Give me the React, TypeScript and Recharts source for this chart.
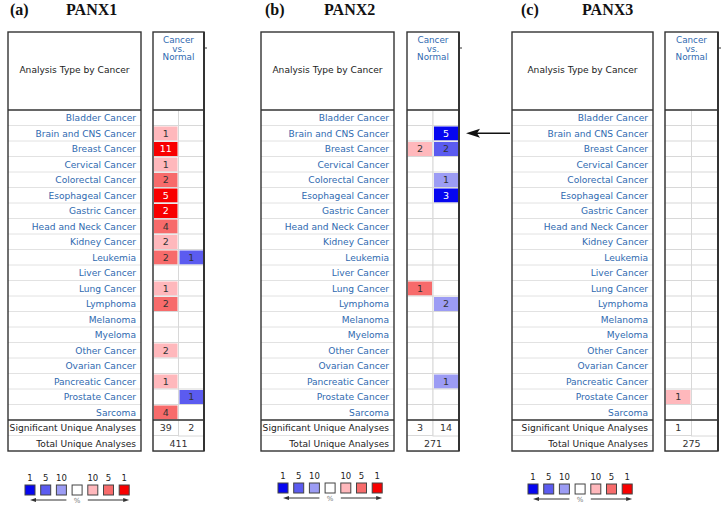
import React from 'react';
import { BarChart, Bar, XAxis, YAxis } from 'recharts';

const cancerTypes = [
  'Bladder Cancer', 'Brain and CNS Cancer', 'Breast Cancer', 'Cervical Cancer', 'Colorectal Cancer',
  'Esophageal Cancer', 'Gastric Cancer', 'Head and Neck Cancer', 'Kidney Cancer', 'Leukemia',
  'Liver Cancer', 'Lung Cancer', 'Lymphoma', 'Melanoma', 'Myeloma', 'Other Cancer',
  'Ovarian Cancer', 'Pancreatic Cancer', 'Prostate Cancer', 'Sarcoma',
];
const summaryLabels = ['Significant Unique Analyses', 'Total Unique Analyses'];
const panelLetters = ['(a)', '(b)', '(c)'];
const geneNames = ['PANX1', 'PANX2', 'PANX3'];

// counts of significant analyses per cancer type (null = none) and gene-rank threshold (%) colour
const panx1UpCounts = [null, 1, 11, 1, 2, 5, 2, 4, 2, 2, null, 1, 2, null, null, 2, null, 1, null, 4];
const panx1UpRanks = [0, 10, 1, 10, 5, 1, 1, 5, 10, 5, 0, 10, 5, 0, 0, 10, 0, 10, 0, 5];
const panx1DownCounts = [null, null, null, null, null, null, null, null, null, 1, null, null, null, null, null, null, null, null, 1, null];
const panx1DownRanks = [0, 0, 0, 0, 0, 0, 0, 0, 0, 5, 0, 0, 0, 0, 0, 0, 0, 0, 5, 0];

const panx2UpCounts = [null, null, 2, null, null, null, null, null, null, null, null, 1, null, null, null, null, null, null, null, null];
const panx2UpRanks = [0, 0, 10, 0, 0, 0, 0, 0, 0, 0, 0, 5, 0, 0, 0, 0, 0, 0, 0, 0];
const panx2DownCounts = [null, 5, 2, null, 1, 3, null, null, null, null, null, null, 2, null, null, null, null, 1, null, null];
const panx2DownRanks = [0, 1, 5, 0, 10, 1, 0, 0, 0, 0, 0, 0, 10, 0, 0, 0, 0, 10, 0, 0];

const panx3UpCounts = [null, null, null, null, null, null, null, null, null, null, null, null, null, null, null, null, null, null, 1, null];
const panx3UpRanks = [0, 0, 0, 0, 0, 0, 0, 0, 0, 0, 0, 0, 0, 0, 0, 0, 0, 0, 10, 0];
const panx3DownCounts = [null, null, null, null, null, null, null, null, null, null, null, null, null, null, null, null, null, null, null, null];
const panx3DownRanks = [0, 0, 0, 0, 0, 0, 0, 0, 0, 0, 0, 0, 0, 0, 0, 0, 0, 0, 0, 0];

const significantUp = [39, 3, 1];
const significantDown = [2, 14, null];
const totalAnalyses = [411, 271, 275];

const legendLabels = ['1', '5', '10', '', '10', '5', '1'];
const legendRanks = [1, 5, 10, 0, 10, 5, 1];
const legendDirs = ['down', 'down', 'down', 'none', 'up', 'up', 'up'];

// ---- styling / layout ----
const H = 508;
const TOP = 32;
const HEADER_BOTTOM = 110;
const BOTTOM = 451;
const N_ROWS = cancerTypes.length + summaryLabels.length;
const ROW_H = (BOTTOM - HEADER_BOTTOM) / N_ROWS;
const SUM_TOP = HEADER_BOTTOM + ROW_H * cancerTypes.length;
const Y_AXIS_W = 150;
const FONT = '"DejaVu Sans", Verdana, sans-serif';
const SERIF = '"Liberation Serif", "Times New Roman", serif';
const LINK_BLUE = '#2f6ab0';
const LABEL_SIZE = 9.1;

const panels = [
  { boxL: 8, boxR: 141, colL: 153, colR: 204, titleX: 10, geneX: 66, legendX: 25, legendY: 485 },
  { boxL: 261, boxR: 394, colL: 407, colR: 459, titleX: 265, geneX: 324, legendX: 278, legendY: 483 },
  { boxL: 512, boxR: 653, colL: 665, colR: 718, titleX: 521, geneX: 582, legendX: 528, legendY: 484 },
];

const upCounts = [panx1UpCounts, panx2UpCounts, panx3UpCounts];
const upRanks = [panx1UpRanks, panx2UpRanks, panx3UpRanks];
const downCounts = [panx1DownCounts, panx2DownCounts, panx3DownCounts];
const downRanks = [panx1DownRanks, panx2DownRanks, panx3DownRanks];

const colorFor = (dir: string, rank: number) => {
  if (dir === 'up') {
    if (rank === 1) return '#f80000';
    if (rank === 5) return '#f76b6b';
    if (rank === 10) return '#ffb8bc';
  }
  if (dir === 'down') {
    if (rank === 1) return '#0606f0';
    if (rank === 5) return '#5b5bf0';
    if (rank === 10) return '#9c9cf4';
  }
  return '#ffffff';
};

const buildRows = (p: number) => {
  const rows: any[] = cancerTypes.map((name, i) => ({
    name,
    upSpan: 1,
    downSpan: 1,
    up: { count: upCounts[p][i], rank: upRanks[p][i], dir: 'up' },
    down: { count: downCounts[p][i], rank: downRanks[p][i], dir: 'down' },
  }));
  rows.push({
    name: summaryLabels[0], upSpan: 1, downSpan: 1,
    up: { count: significantUp[p], rank: 0, dir: 'none' },
    down: { count: significantDown[p], rank: 0, dir: 'none' },
  });
  rows.push({
    name: summaryLabels[1], upSpan: 2, downSpan: 0,
    up: { count: totalAnalyses[p], rank: 0, dir: 'none' },
    down: { count: null, rank: 0, dir: 'none' },
  });
  return rows;
};

const makeCellShape = (key: 'up' | 'down') => (props: any) => {
  const { x, y, width, height, payload } = props;
  if (!width || width <= 0 || !payload) return <g />;
  const cell = payload[key];
  const fill = colorFor(cell.dir, cell.rank);
  const strong = cell.rank === 1;
  return (
    <g>
      <rect x={x} y={y} width={width} height={height} fill="#fff" stroke="#d8d8d8" strokeWidth={1} />
      {fill !== '#ffffff' && (
        <rect x={x + 1} y={y + 1} width={width - 2} height={height - 2} fill={fill} />
      )}
      {cell.count != null && (
        <text
          x={x + width / 2}
          y={y + height / 2}
          dy="0.36em"
          textAnchor="middle"
          fontSize={9.5}
          fontFamily={FONT}
          fill={strong ? '#ffffff' : '#333333'}
        >
          {cell.count}
        </text>
      )}
    </g>
  );
};

const makeTick = (boxL: number, boxR: number) => (props: any) => {
  const { y, payload, index } = props;
  const isSummary = summaryLabels.includes(payload.value);
  return (
    <g>
      <text
        x={boxR - 5}
        y={y}
        dy="0.36em"
        textAnchor="end"
        fontSize={LABEL_SIZE}
        fontFamily={FONT}
        fill={isSummary ? '#222222' : LINK_BLUE}
      >
        {payload.value}
      </text>
      {index < N_ROWS - 1 && index !== cancerTypes.length - 1 && (
        <line x1={boxL} x2={boxR} y1={y + ROW_H / 2} y2={y + ROW_H / 2} stroke="#e2e2e2" strokeWidth={1} />
      )}
    </g>
  );
};

const Panel = ({ p }: { p: number }) => {
  const g = panels[p];
  const data = buildRows(p);
  return (
    <div style={{ position: 'absolute', left: 0, top: 0 }}>
      <BarChart
        width={g.colR + 4}
        height={H}
        data={data}
        layout="vertical"
        margin={{ top: HEADER_BOTTOM, bottom: H - BOTTOM, left: g.colL - Y_AXIS_W, right: 4 }}
        barCategoryGap={0}
        barGap={0}
      >
        <XAxis type="number" domain={[0, 2]} hide />
        <YAxis
          type="category"
          dataKey="name"
          width={Y_AXIS_W}
          interval={0}
          tickLine={false}
          axisLine={false}
          tick={makeTick(g.boxL, g.boxR)}
        />
        <Bar dataKey="upSpan" stackId="s" isAnimationActive={false} shape={makeCellShape('up')} />
        <Bar dataKey="downSpan" stackId="s" isAnimationActive={false} shape={makeCellShape('down')} />
      </BarChart>
    </div>
  );
};

const Frames = () => (
  <svg width={724} height={H} style={{ position: 'absolute', left: 0, top: 0, pointerEvents: 'none' }}>
    {panels.map((g, p) => {
      const colMid = (g.colL + g.colR) / 2;
      const sq = 10;
      const step = 15.7;
      return (
        <g key={p}>
          <text x={g.titleX} y={14.5} fontFamily={SERIF} fontWeight="bold" fontSize={16} fill="#111">
            {panelLetters[p]}
          </text>
          <text x={g.geneX} y={14.5} fontFamily={SERIF} fontWeight="bold" fontSize={16} fill="#111">
            {geneNames[p]}
          </text>
          {/* left box */}
          <rect x={g.boxL} y={TOP} width={g.boxR - g.boxL} height={BOTTOM - TOP} fill="none" stroke="#333" strokeWidth={1.4} />
          <line x1={g.boxL} x2={g.boxR} y1={HEADER_BOTTOM} y2={HEADER_BOTTOM} stroke="#333" strokeWidth={1.6} />
          <line x1={g.boxL} x2={g.boxR} y1={SUM_TOP} y2={SUM_TOP} stroke="#333" strokeWidth={1.6} />
          <text x={(g.boxL + g.boxR) / 2} y={70} dy="0.36em" textAnchor="middle" fontSize={LABEL_SIZE} fontFamily={FONT} fill="#222">
            Analysis Type by Cancer
          </text>
          {/* right box */}
          <rect x={g.colL} y={TOP} width={g.colR - g.colL} height={BOTTOM - TOP} fill="none" stroke="#333" strokeWidth={1.4} />
          <line x1={g.colR} x2={g.colR} y1={TOP} y2={BOTTOM} stroke="#333" strokeWidth={2} />
          <line x1={g.colL} x2={g.colR} y1={HEADER_BOTTOM} y2={HEADER_BOTTOM} stroke="#333" strokeWidth={1.6} />
          <line x1={g.colL} x2={g.colR} y1={SUM_TOP} y2={SUM_TOP} stroke="#333" strokeWidth={1.6} />
          <line x1={g.colR} x2={g.colR + 3} y1={48} y2={48} stroke="#333" strokeWidth={1} />
          {['Cancer', 'vs.', 'Normal'].map((t, i) => (
            <text key={t} x={colMid} y={40 + i * 8.5} dy="0.36em" textAnchor="middle" fontSize={8.8} fontFamily={FONT} fill={LINK_BLUE}>
              {t}
            </text>
          ))}
          {/* legend */}
          {legendLabels.map((lab, i) => (
            <g key={i}>
              <rect
                x={g.legendX + i * step}
                y={g.legendY}
                width={sq}
                height={sq}
                fill={colorFor(legendDirs[i], legendRanks[i])}
                stroke="#444"
                strokeWidth={1}
              />
              {lab && (
                <text x={g.legendX + i * step + sq / 2} y={g.legendY - 4} textAnchor="middle" fontSize={8.5} fontFamily={FONT} fill="#222">
                  {lab}
                </text>
              )}
            </g>
          ))}
          <line x1={g.legendX + 9} x2={g.legendX + 2 * step + sq} y1={g.legendY + 15} y2={g.legendY + 15} stroke="#333" strokeWidth={1} />
          <polygon
            points={`${g.legendX + 5},${g.legendY + 15} ${g.legendX + 11},${g.legendY + 13} ${g.legendX + 11},${g.legendY + 17}`}
            fill="#333"
          />
          <text x={g.legendX + 3 * step + sq / 2} y={g.legendY + 18} textAnchor="middle" fontSize={7} fontFamily={FONT} fill="#777">
            %
          </text>
          <line x1={g.legendX + 4 * step} x2={g.legendX + 6 * step + sq - 4} y1={g.legendY + 15} y2={g.legendY + 15} stroke="#333" strokeWidth={1} />
          <polygon
            points={`${g.legendX + 6 * step + sq},${g.legendY + 15} ${g.legendX + 6 * step + sq - 6},${g.legendY + 13} ${g.legendX + 6 * step + sq - 6},${g.legendY + 17}`}
            fill="#333"
          />
        </g>
      );
    })}
    {/* arrow pointing at PANX2 brain row */}
    <line x1={476} x2={510} y1={HEADER_BOTTOM + ROW_H * 1.5} y2={HEADER_BOTTOM + ROW_H * 1.5} stroke="#111" strokeWidth={1.5} />
    <polygon
      points={`466,${HEADER_BOTTOM + ROW_H * 1.5} 480,${HEADER_BOTTOM + ROW_H * 1.5 - 4.5} 477,${HEADER_BOTTOM + ROW_H * 1.5} 480,${HEADER_BOTTOM + ROW_H * 1.5 + 4.5}`}
      fill="#111"
    />
  </svg>
);

export default function App() {
  return (
    <div style={{ position: 'absolute', left: 0, top: 0, width: 724, height: H, background: '#fff', overflow: 'hidden' }}>
      <Panel p={0} />
      <Panel p={1} />
      <Panel p={2} />
      <Frames />
    </div>
  );
}
